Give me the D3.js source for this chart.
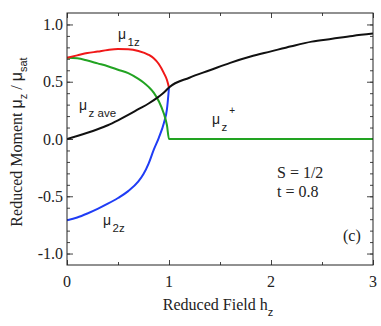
<!DOCTYPE html>
<html>
<head>
<meta charset="utf-8">
<script src="https://cdnjs.cloudflare.com/ajax/libs/d3/7.8.5/d3.min.js"></script>
<style>
  body { margin: 0; background: #fff; }
  svg { display: block; }
  .tk { font-family: "Liberation Serif", "Times New Roman", serif; font-size: 16px; fill: #222; }
  .lab { font-family: "Liberation Sans", Arial, sans-serif; fill: #222; }
</style>
</head>
<body>
<svg id="chart" width="381" height="326"></svg>
<script>
"use strict";

// reduced field h values and curves
var h_1z = [0, 0.1, 0.2, 0.3, 0.4, 0.5, 0.6, 0.7, 0.8, 0.85, 0.9, 0.95, 0.98, 1.0];
var mu1z = [0.71, 0.73, 0.75, 0.763, 0.777, 0.785, 0.783, 0.768, 0.735, 0.705, 0.655, 0.575, 0.515, 0.45];
var h_2z = [0, 0.1, 0.2, 0.3, 0.4, 0.5, 0.6, 0.7, 0.75, 0.8, 0.85, 0.9, 0.95, 0.98, 1.0];
var mu2z = [-0.71, -0.685, -0.65, -0.61, -0.565, -0.515, -0.455, -0.37, -0.306, -0.215, -0.095, 0.01, 0.14, 0.26, 0.45];
var h_stag = [0, 0.1, 0.2, 0.3, 0.4, 0.5, 0.6, 0.7, 0.75, 0.8, 0.85, 0.9, 0.95, 0.98, 1.0, 3.0];
var mu_stag = [0.71, 0.705, 0.685, 0.66, 0.635, 0.605, 0.575, 0.525, 0.494, 0.455, 0.405, 0.33, 0.22, 0.12, 0.0, 0.0];
var h_ave = [0, 0.1, 0.2, 0.3, 0.4, 0.5, 0.6, 0.7, 0.8, 0.9, 0.95, 1.0, 1.2, 1.4, 1.6, 1.8, 2.0, 2.2, 2.4, 2.6, 2.8, 3.0];
var mu_ave = [0, 0.026, 0.054, 0.085, 0.12, 0.163, 0.21, 0.26, 0.31, 0.37, 0.405, 0.45, 0.535, 0.60, 0.665, 0.72, 0.765, 0.81, 0.85, 0.875, 0.90, 0.92];

var x_ticks = [0, 1, 2, 3];
var y_ticks = [-1.0, -0.5, 0.0, 0.5, 1.0];

var margin = { left: 67, right: 8, top: 13, bottom: 61 },
	width = 381 - margin.left - margin.right,
	height = 326 - margin.top - margin.bottom;

var svg = d3.select("#chart");
var g = svg.append("g").attr("transform", "translate(" + margin.left + "," + margin.top + ")");

var x = d3.scaleLinear().domain([0, 3]).range([0, width]);
var y = d3.scaleLinear().domain([-1.1, 1.1]).range([height, 0]);

// clip so curves stay inside the frame
g.append("clipPath").attr("id", "clip")
	.append("rect").attr("width", width).attr("height", height);

var x_minor = d3.range(0, 3.01, 0.5);
var y_minor = d3.range(-1.0, 1.01, 0.1).map(function(d) { return +d.toFixed(1); });

function drawTicks(sel, axis) {
	sel.call(axis);
	sel.select(".domain").remove();
	sel.selectAll("line").attr("stroke", "#444");
}

// inward ticks on all four sides
drawTicks(g.append("g").attr("transform", "translate(0," + height + ")"),
	d3.axisBottom(x).tickValues(x_minor).tickSize(-3).tickFormat(""));
drawTicks(g.append("g").attr("transform", "translate(0," + height + ")"),
	d3.axisBottom(x).tickValues(x_ticks).tickSize(-5).tickFormat(""));
drawTicks(g.append("g"),
	d3.axisTop(x).tickValues(x_minor).tickSize(-3).tickFormat(""));
drawTicks(g.append("g"),
	d3.axisTop(x).tickValues(x_ticks).tickSize(-5).tickFormat(""));
drawTicks(g.append("g"),
	d3.axisLeft(y).tickValues(y_minor).tickSize(-3).tickFormat(""));
drawTicks(g.append("g"),
	d3.axisLeft(y).tickValues(y_ticks).tickSize(-6).tickFormat(""));
drawTicks(g.append("g").attr("transform", "translate(" + width + ",0)"),
	d3.axisRight(y).tickValues(y_minor).tickSize(-3).tickFormat(""));
drawTicks(g.append("g").attr("transform", "translate(" + width + ",0)"),
	d3.axisRight(y).tickValues(y_ticks).tickSize(-6).tickFormat(""));

// tick labels
g.selectAll(".xl").data(x_ticks).enter().append("text")
	.attr("class", "tk")
	.attr("x", function(d) { return x(d); })
	.attr("y", height + 22)
	.attr("text-anchor", "middle")
	.text(function(d) { return d; });

g.selectAll(".yl").data(y_ticks).enter().append("text")
	.attr("class", "tk")
	.attr("x", -4)
	.attr("y", function(d) { return y(d) + 5.5; })
	.attr("text-anchor", "end")
	.text(function(d) { return d.toFixed(1); });

// curves
var line = d3.line()
	.x(function(d) { return x(d[0]); })
	.y(function(d) { return y(d[1]); })
	.curve(d3.curveMonotoneX);

var curves = [
	{ h: h_2z, v: mu2z, color: "#1f3cf5" },
	{ h: h_stag, v: mu_stag, color: "#22a322" },
	{ h: h_1z, v: mu1z, color: "#f01818" },
	{ h: h_ave, v: mu_ave, color: "#111111" }
];

g.append("g").attr("clip-path", "url(#clip)")
	.selectAll("path").data(curves).enter().append("path")
	.attr("fill", "none")
	.attr("stroke", function(d) { return d.color; })
	.attr("stroke-width", 2)
	.attr("d", function(d) { return line(d3.zip(d.h, d.v)); });

// frame
g.append("rect")
	.attr("width", width).attr("height", height)
	.attr("fill", "none").attr("stroke", "#222").attr("stroke-width", 1);

// curve labels
function muLabel(px, py, sub, sup) {
	var t = svg.append("text").attr("class", "lab").attr("x", px).attr("y", py).attr("font-size", 14);
	t.append("tspan").text("μ");
	t.append("tspan").attr("dx", 1.5).attr("dy", 7).attr("font-size", 11.5).text(sub);
	if (sup) t.append("tspan").attr("dy", -17).attr("dx", 2).attr("font-size", 10).text(sup);
}
muLabel(118, 39, "1z");
muLabel(79, 110, "z ave");
muLabel(212, 124, "z", "+");
muLabel(103, 225, "2z");

// annotation
svg.append("text").attr("class", "tk").attr("x", 277).attr("y", 178).attr("font-size", 19).text("S = 1/2");
svg.append("text").attr("class", "tk").attr("x", 277).attr("y", 196.5).attr("font-size", 19).text("t = 0.8");
svg.append("text").attr("class", "tk").attr("x", 343).attr("y", 241).attr("font-size", 14).text("(c)");

// axis titles
var xt = svg.append("text").attr("class", "tk").attr("x", 218).attr("y", 310).attr("text-anchor", "middle");
xt.append("tspan").text("Reduced Field h");
xt.append("tspan").attr("dy", 6).attr("font-size", 11).attr("font-family", "Liberation Sans, Arial, sans-serif").text("z");

var yt = svg.append("text").attr("class", "tk")
	.attr("transform", "translate(22,142) rotate(-90)")
	.attr("text-anchor", "middle");
yt.append("tspan").text("Reduced Moment ");
yt.append("tspan").attr("font-family", "Liberation Sans, Arial, sans-serif").text("μ");
yt.append("tspan").attr("dy", 5).attr("font-size", 11).attr("font-family", "Liberation Sans, Arial, sans-serif").text("z");
yt.append("tspan").attr("dy", -5).text(" / ");
yt.append("tspan").attr("font-family", "Liberation Sans, Arial, sans-serif").text("μ");
yt.append("tspan").attr("dy", 5).attr("font-size", 11).attr("font-family", "Liberation Sans, Arial, sans-serif").text("sat");
</script>
</body>
</html>
